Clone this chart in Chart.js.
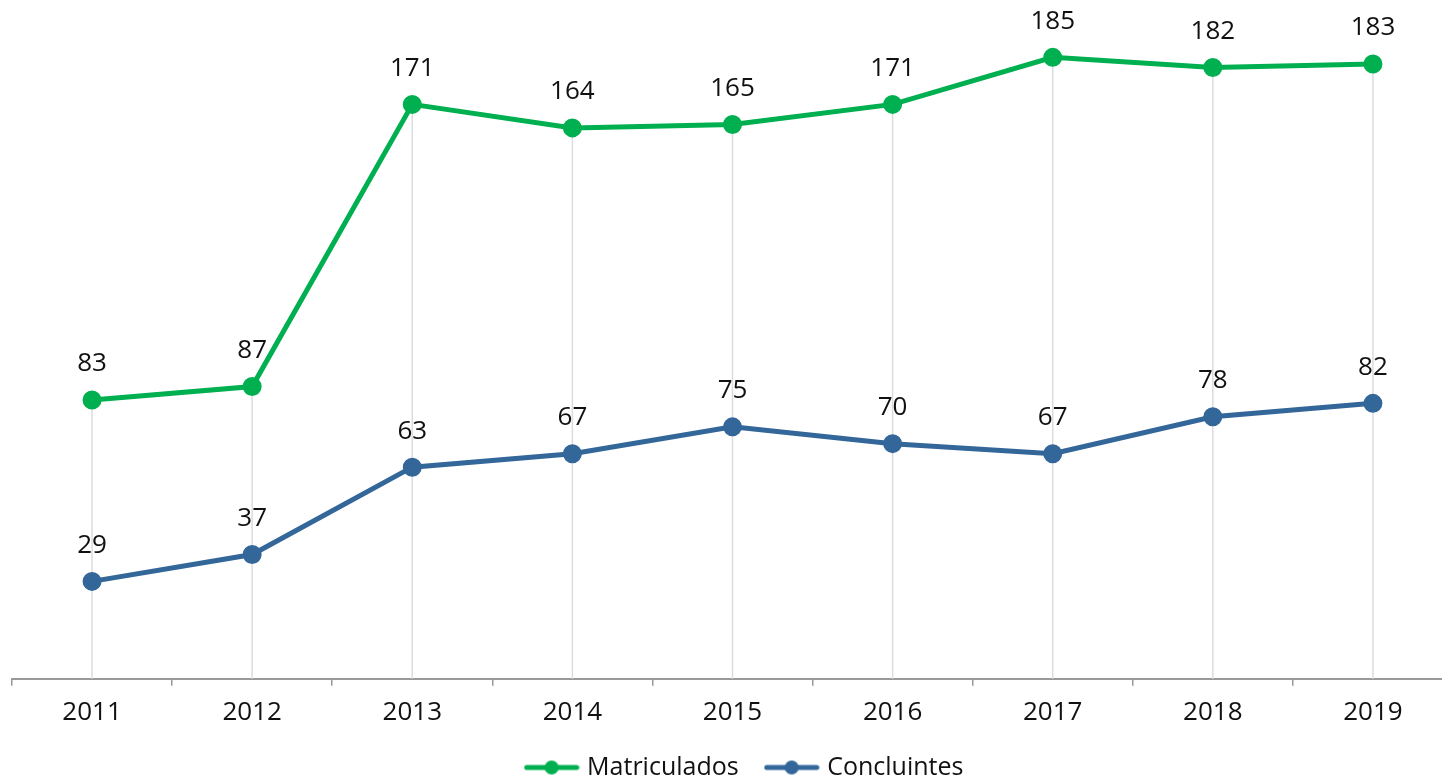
<!DOCTYPE html>
<html>
<head>
<meta charset="utf-8">
<script src="https://cdn.jsdelivr.net/npm/chart.js@4.4.0/dist/chart.umd.min.js"></script>
<style>
  html, body { margin: 0; padding: 0; background: #fff; overflow: hidden; }
  #wrap { width: 1500px; height: 781px; }
</style>
</head>
<body>
<div id="wrap"><canvas id="canvas"></canvas></div>
<script>
var years = ['2011', '2012', '2013', '2014', '2015', '2016', '2017', '2018', '2019'];

var matriculados = [83, 87, 171, 164, 165, 171, 185, 182, 183];

var concluintes = [29, 37, 63, 67, 75, 70, 67, 78, 82];

var green = '#00b050';
var blue = '#336699';
var font = "'Open Sans', 'DejaVu Sans', sans-serif";

// little "line with a dot" marker for the legend
function legendMarker(color) {
    var c = document.createElement('canvas');
    c.width = 56;
    c.height = 16;
    var g = c.getContext('2d');
    g.strokeStyle = color;
    g.lineWidth = 5;
    g.lineCap = 'round';
    g.beginPath();
    g.moveTo(3, 8);
    g.lineTo(53, 8);
    g.stroke();
    g.fillStyle = color;
    g.beginPath();
    g.arc(28, 8, 7, 0, Math.PI * 2);
    g.fill();
    return c;
}
var markers = [legendMarker(green), legendMarker(blue)];

// vertical drop lines from the top point of each year down to the axis
var dropLines = {
    id: 'dropLines',
    beforeDatasetsDraw: function(chart) {
        var ctx = chart.ctx;
        var x = chart.scales.x;
        var y = chart.scales.y;
        ctx.save();
        ctx.strokeStyle = '#dcdcdc';
        ctx.lineWidth = 1.5;
        for (var i = 0; i < years.length; i++) {
            var top = Math.max(matriculados[i], concluintes[i]);
            var px = x.getPixelForValue(i);
            ctx.beginPath();
            ctx.moveTo(px, y.getPixelForValue(top));
            ctx.lineTo(px, chart.chartArea.bottom);
            ctx.stroke();
        }
        ctx.restore();
    }
};

// value labels above the points
var valueLabels = {
    id: 'valueLabels',
    afterDatasetsDraw: function(chart) {
        var ctx = chart.ctx;
        ctx.save();
        ctx.font = '26px ' + font;
        ctx.fillStyle = '#111';
        ctx.textAlign = 'center';
        ctx.textBaseline = 'middle';
        chart.data.datasets.forEach(function(ds, d) {
            var meta = chart.getDatasetMeta(d);
            meta.data.forEach(function(pt, i) {
                ctx.fillText(ds.data[i], pt.x, pt.y - 36);
            });
        });
        ctx.restore();
    }
};

window.onload = function() {
    var ctx = document.getElementById('canvas').getContext('2d');
    window.myLine = new Chart(ctx, {
        type: 'line',
        data: {
            labels: years,
            datasets: [{
                label: 'Matriculados',
                data: matriculados,
                borderColor: green,
                backgroundColor: green,
                borderWidth: 5,
                pointRadius: 7,
                pointHoverRadius: 7,
                tension: 0
            }, {
                label: 'Concluintes',
                data: concluintes,
                borderColor: blue,
                backgroundColor: blue,
                borderWidth: 5,
                pointRadius: 7,
                pointHoverRadius: 7,
                tension: 0
            }]
        },
        options: {
            responsive: true,
            maintainAspectRatio: false,
            animation: false,
            layout: {
                padding: { left: 11, right: 19, top: 1, bottom: -9 }
            },
            scales: {
                x: {
                    offset: true,
                    grid: {
                        offset: true,
                        drawOnChartArea: false,
                        drawTicks: true,
                        tickLength: 7,
                        color: '#999',
                        lineWidth: 1.5
                    },
                    border: { display: true, color: '#999', width: 2 },
                    ticks: {
                        color: '#111',
                        padding: 11,
                        font: { family: font, size: 26 }
                    },
                    afterFit: function(s) { s.height = s.height - 14; }
                },
                y: {
                    display: false,
                    min: 0,
                    max: 198.5
                },
                yR: {
                    position: 'right',
                    display: true,
                    min: 0,
                    max: 1,
                    grid: { display: false },
                    border: { display: false },
                    ticks: { display: false },
                    afterFit: function(s) { s.width = 28; }
                }
            },
            plugins: {
                legend: {
                    position: 'bottom',
                    labels: {
                        usePointStyle: true,
                        pointStyleWidth: 46,
                        padding: 30,
                        color: '#111',
                        font: { family: font, size: 25 },
                        generateLabels: function(chart) {
                            var items = Chart.defaults.plugins.legend.labels.generateLabels(chart);
                            items.forEach(function(it, i) { it.pointStyle = markers[i]; });
                            return items;
                        }
                    }
                },
                tooltip: { enabled: false }
            }
        },
        plugins: [dropLines, valueLabels]
    });
};
</script>
</body>
</html>
